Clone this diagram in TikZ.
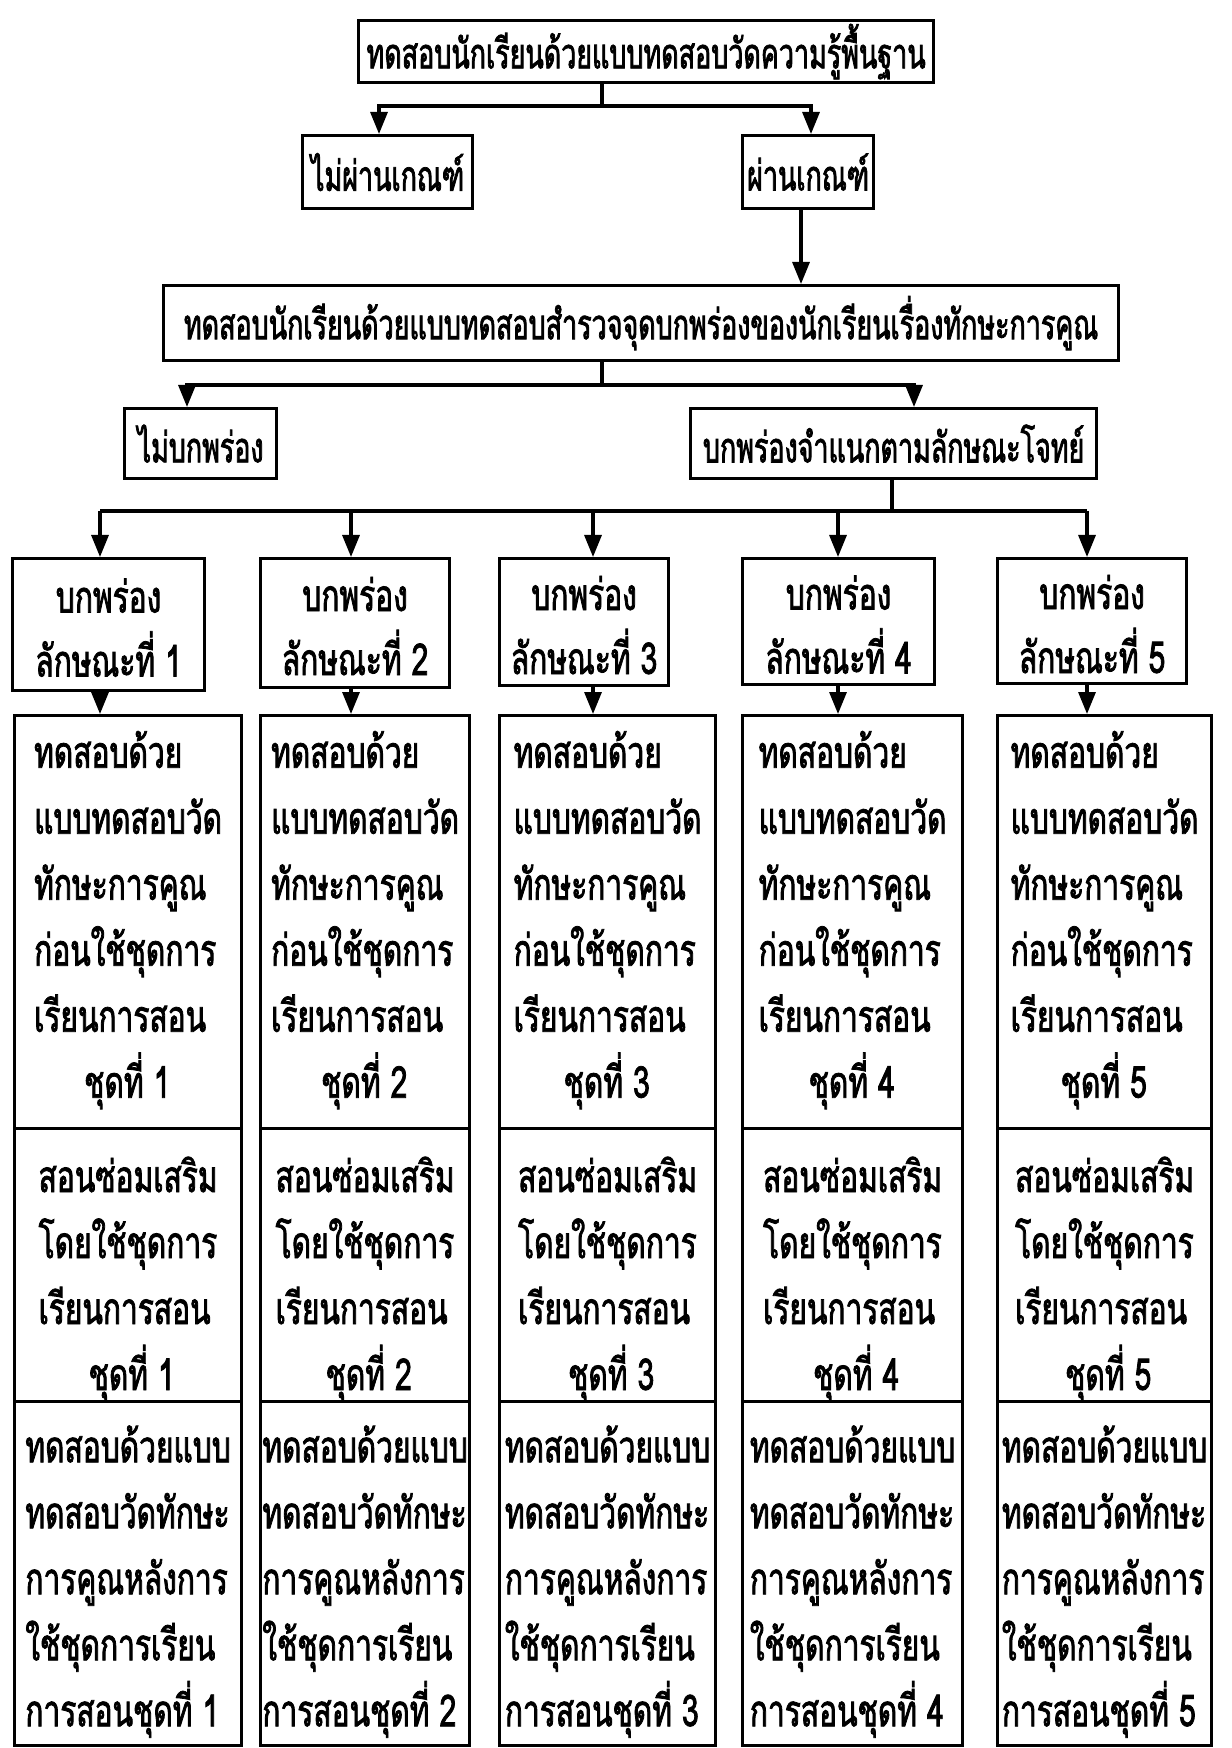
\documentclass[tikz,border=0pt]{standalone}
\usepackage{fontspec}
\newfontfamily\thai[Script=Thai,FakeStretch=0.68,FakeBold=1.8]{Loma}
\newfontfamily\thain[Script=Thai,FakeStretch=0.64,FakeBold=1.8]{Loma}
\usetikzlibrary{arrows.meta}
\begin{document}
\begin{tikzpicture}[x=0.5pt,y=-0.5pt,
  box/.style={draw,line width=1.6pt,inner sep=0pt,anchor=north west,
    font=\thai\fontsize{22}{33}\selectfont,align=center},
  narrow/.style={font=\thain\fontsize{21}{33}\selectfont},
  txt/.style={inner sep=0pt,font=\thai\fontsize{22}{33}\selectfont,align=left},
  sz/.style 2 args={minimum width=#1*0.5pt,minimum height=#2*0.5pt},
  ln/.style={line width=1.6pt},
  arr/.style={line width=1.6pt,-{Triangle[length=11pt,width=8.5pt]}}]
\useasboundingbox[fill=white] (0,0) rectangle (1231,1748);

% top level
\node[box,narrow,sz={575}{62}] (top) at (357,19) {ทดสอบนักเรียนด้วยแบบทดสอบวัดความรู้พื้นฐาน};
\node[box,narrow,sz={170}{73}] (nopass) at (301,134) {ไม่ผ่านเกณฑ์};
\node[box,narrow,sz={131}{73}] (pass) at (741,134) {ผ่านเกณฑ์};
\node[box,narrow,sz={955}{75}] (survey) at (162,284) {ทดสอบนักเรียนด้วยแบบทดสอบสำรวจจุดบกพร่องของนักเรียนเรื่องทักษะการคูณ};
\node[box,narrow,sz={152}{70}] (nodef) at (123,407) {ไม่บกพร่อง};
\node[box,narrow,sz={406}{70}] (def) at (689,407) {บกพร่องจำแนกตามลักษณะโจทย์};

\coordinate (j1) at (602,106);
\coordinate (xa) at (379,0);
\coordinate (xb) at (811,0);
\coordinate (xc) at (801,0);
\draw[ln] (top.south -| j1) -- (j1);
\draw[arr] (j1) -| (nopass.north -| xa);
\draw[arr] (j1) -| (pass.north -| xb);
\draw[arr] (pass.south -| xc) -- (survey.north -| xc);

\coordinate (j2) at (602,385);
\coordinate (xd) at (187,0);
\coordinate (xe) at (914,0);
\draw[ln] (survey.south -| j2) -- (j2);
\draw[arr] (j2) -| (nodef.north -| xd);
\draw[arr] (j2) -| (def.north -| xe);

\coordinate (j3) at (892,511);
\draw[ln] (def.south -| j3) -- (j3);

% five columns
\foreach \i/\rl/\rw/\rh/\ax/\tl/\tw in
  {1/11/192/132/100/13/227, 2/259/189/129/351/259/209, 3/498/169/127/593/498/216,
   4/741/192/126/838/741/220, 5/996/189/125/1087/996/214}{
  \coordinate (x\i) at (\ax,0);
  \node[box,sz={\rw}{\rh}] (r\i) at (\rl,557) {};
  \node[txt,align=center] (rt\i) at ([yshift=-1.5pt]r\i.center) {บกพร่อง\\[-1pt]ลักษณะที่ \i};
  \node[box,sz={\tw}{413}] (a\i) at (\tl,714) {};
  \node[txt] (at\i) at ([yshift=1pt]a\i.center)
    {ทดสอบด้วย\\แบบทดสอบวัด\\ทักษะการคูณ\\ก่อนใช้ชุดการ\\เรียนการสอน\\\hspace*{25pt}ชุดที่ \i};
  \node[box,sz={\tw}{273}] (b\i) at (\tl,1127) {};
  \node[txt] (bt\i) at ([yshift=-7pt]b\i.center)
    {สอนซ่อมเสริม\\โดยใช้ชุดการ\\เรียนการสอน\\\hspace*{25pt}ชุดที่ \i};
  \node[box,sz={\tw}{344}] (c\i) at (\tl,1400) {};
  \node[txt] (ct\i) at ([yshift=-4pt]c\i.center)
    {ทดสอบด้วยแบบ\\ทดสอบวัดทักษะ\\การคูณหลังการ\\ใช้ชุดการเรียน\\การสอนชุดที่ \i};
  \draw[arr] (j3 -| x\i) -- (r\i.north -| x\i);
  \draw[arr] (r\i.south -| x\i) -- (a\i.north -| x\i);
}
\draw[ln] (j3 -| x1) -- (j3 -| x5);
\end{tikzpicture}
\end{document}
